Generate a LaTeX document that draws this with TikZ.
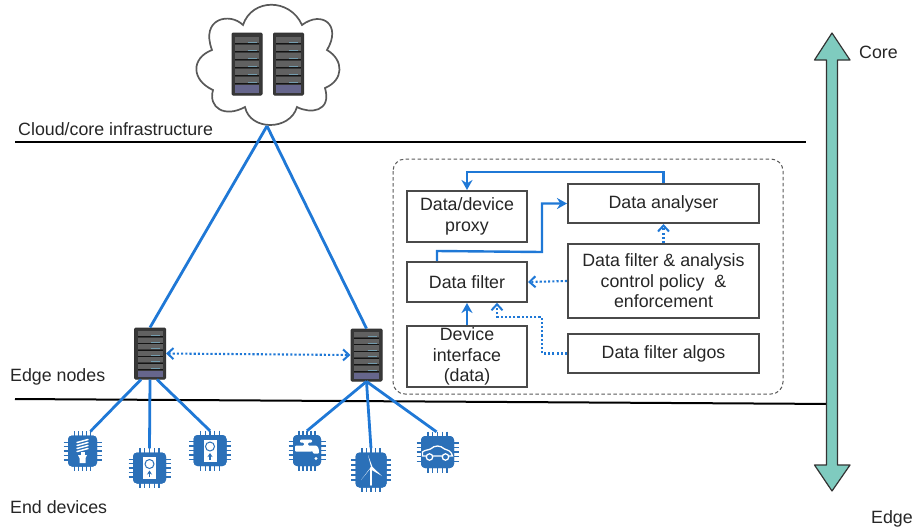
\documentclass[tikz,border=0pt]{standalone}
\usepackage{fontspec}
\setmainfont{Liberation Sans}
\usetikzlibrary{arrows.meta,calc}
\definecolor{linkblue}{HTML}{1F78D6}
\definecolor{chipblue}{HTML}{2B70B8}
\definecolor{tealfill}{HTML}{7FCBBF}
\definecolor{boxedge}{HTML}{4A4A4A}
\tikzset{
 lbl/.style={inner sep=0pt,text=black!85,font=\fontsize{17.8}{21}\selectfont},
 boxnode/.style={draw=boxedge,line width=2pt,fill=white,align=center,inner sep=0pt,font=\fontsize{17.8}{20.5}\selectfont,text=black!85},
 solidlink/.style={draw=linkblue,line width=2.4pt,-{Stealth[length=10pt,width=11pt]}},
 dotlink/.style={draw=linkblue,line width=2.1pt,dash pattern=on 2.1pt off 2.1pt,-{Straight Barb[length=6pt,width=11pt,line width=2pt]}},
 wire/.style={draw=linkblue,line width=2.8pt},
 srvbody/.style={draw=black!80,line width=1pt,fill=black!78,rounded corners=1.2pt,inner sep=0pt},
 chipbody/.style={fill=chipblue,rounded corners=4pt,inner sep=0pt},
 ruleline/.style={draw=black,line width=2pt},
 pinline/.style={draw=chipblue,line width=1.3pt},
 iconw/.style={draw=white,line width=1.3pt,line cap=round},
}
\newcommand\srv[5]{%
 \node[srvbody,minimum width=#4pt,minimum height=#5pt] (#1) at (#2,#3) {};
 \begin{scope}[shift={(#2,#3)},xscale=#4/31,yscale=#5/52]
  \foreach \i in {0,...,5}{
   \pgfmathsetmacro\yy{-23+\i*6.7}
   \fill[black!62] (-12.5,\yy) rectangle (12.5,\yy+5.2);
   \draw[black!92,line width=.7pt] (-12.5,\yy+5.9) -- (12.5,\yy+5.9);
   \draw[cyan!50!black!70!white,line width=.9pt] (1,\yy+4.6) -- (10,\yy+4.6);
  }
  \fill[blue!25!black!60] (-12.5,17.5) rectangle (12.5,24);
 \end{scope}}
\newcommand\chipunit[5]{%
 \node[chipbody,minimum width=#4pt,minimum height=#5pt] (#1) at (#2,#3) {};
 \begin{scope}[shift={(#2,#3)}]
  \foreach \k in {-2,...,2}{
   \draw[pinline] (\k*#4/7,-#5/2-4.5) -- (\k*#4/7,#5/2+4.5);
   \draw[pinline] (-#4/2-4.5,\k*#5/7) -- (#4/2+4.5,\k*#5/7);
  }
  \fill[chipblue,rounded corners=4pt] (-#4/2,-#5/2) rectangle (#4/2,#5/2);
 \end{scope}}
\newcommand\devicon[2]{%
 \begin{scope}[shift={(#1,#2)}]
  \fill[white] (-6.5,-11) rectangle (6.5,11);
  \draw[chipblue,line width=1pt] (0,-4) circle (4.5);
  \draw[chipblue,line width=1.6pt,-{Stealth[length=4pt,width=5pt]}] (0,9) -- (0,2.5);
 \end{scope}}
\begin{document}
\begin{tikzpicture}[x=1pt,y=-1pt]
\useasboundingbox (0,0) rectangle (914,531);
% cloud
\draw[draw=black!65,line width=1.7pt,fill=white]
 (243,25) .. controls (252,-2) and (290,-2) .. (302,25)
 .. controls (322,10) and (342,25) .. (327,50)
 .. controls (344,60) and (344,80) .. (325,88)
 .. controls (332,112) and (310,114) .. (297,107)
 .. controls (290,131) and (250,131) .. (245,107)
 .. controls (225,118) and (208,108) .. (213,90)
 .. controls (191,80) and (191,58) .. (212,50)
 .. controls (200,18) and (230,12) .. (243,25) -- cycle;
\coordinate (cloudtip) at (267,126);
\srv{cs1}{247}{64}{30}{62}
\srv{cs2}{288.5}{64}{30}{62}
\srv{s1}{150}{353.5}{31}{51}
\srv{s2}{366.5}{355}{31}{52}
% rules
\coordinate (r1a) at (15,142); \coordinate (r1b) at (806,142);
\coordinate (r2a) at (15,399); \coordinate (r2b) at (837,404);
\draw[ruleline] (r1a) -- (r1b);
\draw[ruleline] (r2a) -- (r2b);
% uplinks
\draw[wire] (cloudtip) -- (s1.north);
\draw[wire] (cloudtip) -- (s2.north);
\draw[dotlink,{Straight Barb[length=6pt,width=11pt,line width=2pt]}-{Straight Barb[length=6pt,width=11pt,line width=2pt]}] (s1.east) -- (s2.west);
% chips
\chipunit{c1}{82.5}{451}{29}{31}
\chipunit{c2}{149.5}{468}{33}{31}
\chipunit{c3}{210}{450.5}{33}{31}
\chipunit{c4}{307}{450.5}{28}{31}
\chipunit{c5}{371}{470}{31}{35}
\chipunit{c6}{437.5}{452}{33}{32}
% device links
\draw[wire] ([xshift=-9pt]s1.south) -- ([xshift=8pt,yshift=4pt]c1.north);
\draw[wire] (s1.south) -- ([yshift=4pt]c2.north);
\draw[wire] ([xshift=7pt]s1.south) -- ([yshift=4pt]c3.north);
\draw[wire] (s2.south) -- ([yshift=4pt]c4.north);
\draw[wire] (s2.south) -- ([yshift=4pt]c5.north);
\draw[wire] (s2.south) -- ([xshift=-1pt,yshift=4pt]c6.north);
% icons
\begin{scope}[shift={(82.5,451)}]
 \foreach \yy in {-10,-7,-4,-1}{\draw[iconw,line width=1.5pt] (-5.5,\yy+1.5) -- (5.5,\yy-1.5);}
 \fill[white] (-2,1) rectangle (2,4);
 \fill[white] (-4.5,4) -- (4.5,4) -- (3,7) -- (3,12) -- (-3,12) -- (-3,7) -- cycle;
\end{scope}
\devicon{149.5}{468}
\devicon{210}{450.5}
\begin{scope}[shift={(307,450.5)}]
 \fill[white,rounded corners=1pt] (-12,-5) -- (-3,-5) -- (-3,-8) -- (-7,-8) -- (-7,-11) -- (5,-11) -- (5,-8) -- (1,-8) -- (1,-5) -- (7,-5) .. controls (11,-5) and (12,-2) .. (12,3) -- (6,3) .. controls (6,0) and (5,1) .. (3,1) -- (-12,1) -- cycle;
 \fill[white] (9,8) circle (1.7);
\end{scope}
\begin{scope}[shift={(371,470)}]
 \draw[iconw,line width=1.5pt] (0,-2) -- (0,15);
 \fill[white] (0,-3) -- (-3,-15) -- (1.5,-3) -- (11,6) -- (-1,-1) -- (-10,10) -- cycle;
\end{scope}
\begin{scope}[shift={(437.5,452)}]
 \draw[iconw,fill=chipblue] (-15,4) -- (-15,0) .. controls (-13,-2) and (-9,-2) .. (-7,-3) .. controls (-3,-7) and (3,-7) .. (7,-3) .. controls (10,-2) and (14,-1) .. (15,4) -- cycle;
 \draw[iconw,fill=chipblue] (-8,5) circle (3.2);
 \draw[iconw,fill=chipblue] (8,5) circle (3.2);
\end{scope}
% dashed group
\draw[draw=black!65,line width=1pt,dash pattern=on 3.5pt off 2.5pt,rounded corners=12pt] (393,159) rectangle (783,394);
% boxes
\node[boxnode,minimum width=120pt,minimum height=51pt] (proxy) at (467,216.5) {Data/device\\proxy};
\node[boxnode,minimum width=120pt,minimum height=40pt] (filter) at (467,282) {Data filter};
\node[boxnode,minimum width=120pt,minimum height=61pt] (iface) at (467,356.5) {Device\\interface\\(data)};
\node[boxnode,minimum width=191pt,minimum height=39pt] (analyser) at (663.5,203.5) {Data analyser};
\node[boxnode,minimum width=191pt,minimum height=74pt] (policy) at (663.5,281) {Data filter \& analysis\\control policy ~\&\\enforcement};
\node[boxnode,minimum width=191pt,minimum height=39pt] (algos) at (663.5,353.5) {Data filter algos};
% box links
\draw[solidlink] (analyser.north) -- ++(0,-11) -| (proxy.north);
\draw[solidlink] (filter.north -| 437,0) -- ++(0,-10) -- (542,252) |- (analyser.west);
\draw[solidlink] (iface.north) -- (filter.south);
\draw[dotlink] (policy.west) -- (filter.east);
\draw[dotlink] (policy.north) -- (analyser.south);
\draw[dotlink] (algos.west) -- (542,353.5) -- (542,317) -- (497,317) -- (497,302.8);
% scale arrow
\node[inner sep=0pt,minimum size=0pt] (coreend) at (832,33) {};
\node[inner sep=0pt,minimum size=0pt] (edgeend) at (832,491) {};
\draw[draw=black!80,line width=1.2pt,fill=tealfill,line join=round] (coreend.center) -- (850,60) -- (837.5,60) -- (837.5,465) -- (850,465) -- (edgeend.center) -- (814.5,465) -- (826.5,465) -- (826.5,60) -- (814.5,60) -- cycle;
% labels
\node[lbl,anchor=west] (tcloud) at (18,129) {Cloud/core infrastructure};
\node[lbl,anchor=west] (tedge) at (10,377) {Edge nodes};
\node[lbl,anchor=west] (tend) at (10,507) {End devices};
\node[lbl,anchor=west] (tcore) at (859,52) {Core};
\node[lbl,anchor=west] (tedg) at (871,519) {Edge};
\end{tikzpicture}
\end{document}
